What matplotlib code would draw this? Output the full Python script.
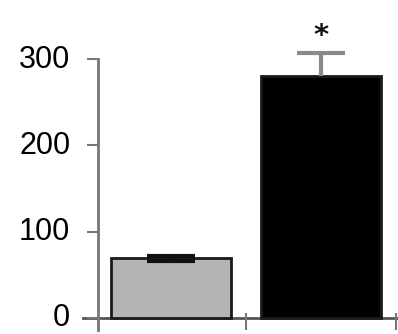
import matplotlib.pyplot as plt
import matplotlib.transforms as mtransforms

plt.rcParams['font.family'] = ['Liberation Sans', 'DejaVu Sans']

groups = ['control', 'treated']
values = [69, 281]
err_lower = [3, 0]
err_upper = [3, 26]
bar_colors = ['#b4b4b4', '#000000']
err_colors = ['#111111', '#8a8a8a']

fig = plt.figure(figsize=(3.98, 3.34), dpi=100)
ax = fig.add_axes([0.2462, 0.012, 0.7538, 0.811])

x = list(range(len(values)))
ax.bar(x, values, width=0.8, color=bar_colors, edgecolor='#1a1a1a', linewidth=2, zorder=2)
for xi, v, lo, hi, c in zip(x, values, err_lower, err_upper, err_colors):
    _, caps, bars = ax.errorbar(xi, v, yerr=[[lo], [hi]], fmt='none', ecolor=c,
                                elinewidth=3, capsize=17, capthick=3, zorder=3)
    for art in list(caps) + list(bars):
        art.set_clip_on(False)
    if lo == 0:
        caps[0].set_visible(False)

# asterisk above the treated bar
ax.text(1, values[1] + err_upper[1] + 4, '*', ha='center', va='bottom',
        fontsize=21, fontweight='bold', color='#111111', family='DejaVu Sans')

ax.set_xlim(-0.49, 1.51)
ax.set_ylim(-14, 300)
ax.set_yticks([0, 100, 200, 300])
ax.set_xticks([0.5, 1.5])
ax.set_xticklabels([])
ax.tick_params(axis='y', labelsize=22, length=8, width=1.5, color='#777777', pad=12)
ax.tick_params(axis='x', length=12, width=1.5, color='#777777', direction='in')

# nudge the y labels up a touch so the "0" stays inside the figure
shift = mtransforms.ScaledTranslation(0, 3 / 100, fig.dpi_scale_trans)
for lab in ax.get_yticklabels():
    lab.set_transform(lab.get_transform() + shift)

for s in ['top', 'right', 'bottom']:
    ax.spines[s].set_visible(False)
ax.spines['left'].set_color('#777777')
ax.spines['left'].set_linewidth(2)

# baseline at zero, extending slightly left of the axis
ax.plot([-0.59, 1.51], [0, 0], color='#555555', linewidth=2, clip_on=False, zorder=1)

fig.savefig('out.png', dpi=100)
